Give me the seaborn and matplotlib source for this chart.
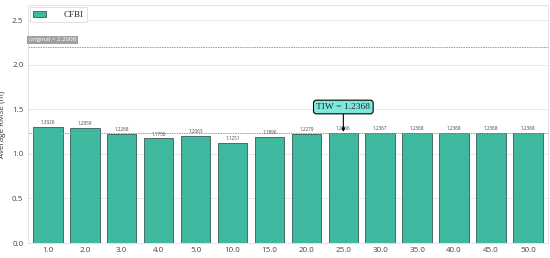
import numpy as np
import pandas as pd
import matplotlib
matplotlib.use("Agg")
import matplotlib.pyplot as plt
import seaborn as sns

# --- data ---
windows = ["1.0", "2.0", "3.0", "4.0", "5.0", "10.0", "15.0", "20.0",
           "25.0", "30.0", "35.0", "40.0", "45.0", "50.0"]
rmse = [1.3026, 1.2959, 1.2268, 1.1756, 1.2063, 1.1251, 1.1896, 1.2279,
        1.2366, 1.2367, 1.2368, 1.2368, 1.2368, 1.2368]
original_rmse = 2.2008
tiw_value = 1.2368
tiw_window = "25.0"

df = pd.DataFrame({"window": windows, "rmse": rmse})

sns.set_style("whitegrid")
plt.rcParams['font.family'] = ['Open Sans', 'DejaVu Sans']

fig, ax = plt.subplots(figsize=(5.5, 2.58), dpi=100)
sns.barplot(data=df, x="window", y="rmse", color="#3fb8a0", saturation=1,
            edgecolor="#3a5a55", linewidth=0.6, width=0.8, ax=ax, label="CFBI")

ax.set_ylim(0, 2.67)
ax.set_xlim(-0.55, len(windows) - 0.45)
ax.set_yticks([0.0, 0.5, 1.0, 1.5, 2.0, 2.5])
ax.set_xlabel("")
ax.set_ylabel("Average RMSE (m)", fontsize=5.8, color="#333333")
ax.tick_params(axis="both", labelsize=5.8, colors="#444444", length=0, pad=3)
ax.grid(axis="x", visible=False)
ax.grid(axis="y", color="#e3e3e3", linewidth=0.6)
for sp in ax.spines.values():
    sp.set_color("#dddddd")
    sp.set_linewidth(0.6)

# value labels
for i, v in enumerate(rmse):
    ax.text(i, v + 0.02, f"{v:.4f}", ha="center", va="bottom", fontsize=3.3, color="#444444")

# reference lines
ax.axhline(tiw_value, color="#999999", linestyle="--", linewidth=0.7, dashes=(1.5, 1))
ax.axhline(original_rmse, color="#999999", linestyle="--", linewidth=0.7, dashes=(1.5, 1))
ax.text(-0.52, original_rmse + 0.08, f"original = {original_rmse:.4f}", fontsize=4.4,
        color="white", ha="left", va="center",
        bbox=dict(boxstyle="square,pad=0.3", facecolor="#a0a0a0", edgecolor="none"))

# TIW annotation
xi = windows.index(tiw_window)
ax.annotate(f"TIW = {tiw_value:.4f}", xy=(xi, tiw_value + 0.01), xytext=(xi, tiw_value + 0.29),
            ha="center", va="center", fontsize=6.8, family="Liberation Serif",
            bbox=dict(boxstyle="round,pad=0.3", facecolor="#7de8dc", edgecolor="black", linewidth=0.8),
            arrowprops=dict(arrowstyle="-|>", color="black", linewidth=0.8, mutation_scale=5,
                            shrinkA=0, shrinkB=0))

leg = ax.legend(loc="upper left", prop={"family": "Liberation Serif", "size": 6.5},
                frameon=True, fancybox=False, borderpad=0.35, handlelength=1.4,
                handletextpad=2.0, borderaxespad=0.25)
leg.get_frame().set_edgecolor("#dddddd")
leg.get_frame().set_linewidth(0.6)
leg.get_frame().set_alpha(1)

plt.subplots_adjust(left=0.05, right=0.997, top=0.98, bottom=0.058)
fig.savefig("out.png", dpi=100)
